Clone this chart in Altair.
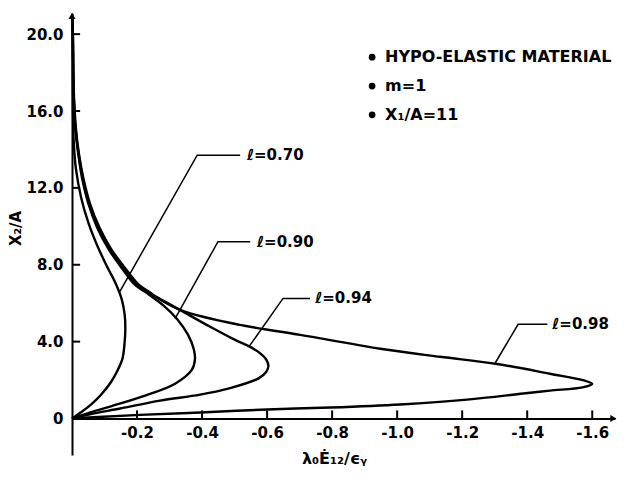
import altair as alt
import pandas as pd

# ---------------- data ----------------
curve_labels = ["ℓ=0.70", "ℓ=0.90", "ℓ=0.94", "ℓ=0.98"]

x70 = [-0.002, -0.002, -0.003, -0.005, -0.012, -0.028, -0.05, -0.075, -0.105, -0.135, -0.153,
       -0.162, -0.164, -0.161, -0.155, -0.14, -0.12, -0.09, -0.06, -0.03, 0.0]
y70 = [20.8, 18.5, 16.0, 14.5, 13.0, 11.5, 10.2, 9.1, 8.0, 7.0, 6.2,
       5.4, 4.6, 3.8, 3.1, 2.5, 1.9, 1.25, 0.75, 0.35, 0.0]

x90 = [-0.002, -0.003, -0.004, -0.006, -0.01, -0.019, -0.031, -0.05, -0.077, -0.113, -0.15, -0.194, -0.226,
       -0.28, -0.323, -0.357, -0.375, -0.378, -0.369, -0.317, -0.225, -0.117, -0.05, 0.0]
y90 = [20.8, 19.5, 18.0, 16.4, 15.1, 13.8, 12.5, 11.2, 9.95, 8.8, 7.9, 6.95, 6.58,
       5.9, 5.18, 4.35, 3.58, 3.06, 2.54, 1.81, 1.19, 0.62, 0.28, 0.0]

x94 = [-0.002, -0.003, -0.004, -0.006, -0.011, -0.02, -0.033, -0.052, -0.08, -0.117, -0.155, -0.2, -0.231,
       -0.265, -0.332, -0.425, -0.5, -0.545, -0.578, -0.598, -0.604, -0.597, -0.575, -0.486, -0.394, -0.271,
       -0.148, -0.055, 0.0]
y94 = [20.8, 19.5, 18.0, 16.4, 15.1, 13.8, 12.5, 11.2, 9.95, 8.8, 7.9, 6.95, 6.58,
       6.28, 5.65, 4.77, 4.1, 3.75, 3.4, 3.05, 2.72, 2.42, 2.1, 1.58, 1.24, 0.93,
       0.52, 0.22, 0.0]

x98 = [-0.002, -0.003, -0.004, -0.007, -0.012, -0.021, -0.035, -0.055, -0.084, -0.121, -0.16, -0.206, -0.238,
       -0.27, -0.34, -0.517, -0.702, -0.948, -1.132, -1.302, -1.47, -1.575, -1.6, -1.57, -1.47, -1.388,
       -1.215, -1.009, -0.794, -0.6, -0.394, -0.209, -0.08, 0.0]
y98 = [20.8, 19.5, 18.0, 16.4, 15.1, 13.8, 12.5, 11.2, 9.95, 8.8, 7.9, 6.95, 6.58,
       6.2, 5.6, 4.87, 4.35, 3.63, 3.21, 2.85, 2.33, 1.98, 1.8, 1.62, 1.45, 1.30,
       0.98, 0.73, 0.57, 0.47, 0.31, 0.19, 0.08, 0.0]

# leader lines (curve point -> elbow -> end) and label anchors
leader_x = [[-0.147, -0.385, -0.517], [-0.317, -0.449, -0.548],
            [-0.545, -0.649, -0.732], [-1.302, -1.372, -1.462]]
leader_y = [[6.6, 13.7, 13.7], [5.2, 9.2, 9.2],
            [3.75, 6.25, 6.25], [2.9, 4.9, 4.9]]
label_x = [-0.538, -0.569, -0.748, -1.477]
label_y = [13.7, 9.2, 6.25, 4.9]

note_lines = ["HYPO-ELASTIC MATERIAL", "m=1", "X₁/A=11"]
note_y = [18.8, 17.3, 15.8]
note_bullet_x = -0.923
note_text_x = -0.963

x_tick_values = [-0.2, -0.4, -0.6, -0.8, -1.0, -1.2, -1.4, -1.6]
y_tick_values = [0, 4, 8, 12, 16, 20]

# ---------------- tables ----------------
rows = []
for name, xs, ys in zip(curve_labels, [x70, x90, x94, x98], [y70, y90, y94, y98]):
    for i, (a, b) in enumerate(zip(xs, ys)):
        rows.append({"curve": name, "i": i, "x": a, "y": b})
df_curves = pd.DataFrame(rows)

lrows = []
for name, xs, ys in zip(curve_labels, leader_x, leader_y):
    for i, (a, b) in enumerate(zip(xs, ys)):
        lrows.append({"curve": name, "i": i, "x": a, "y": b})
df_leaders = pd.DataFrame(lrows)

df_labels = pd.DataFrame({"x": label_x, "y": label_y, "t": curve_labels})
df_notes = pd.DataFrame({"bx": [note_bullet_x] * 3, "tx": [note_text_x] * 3, "y": note_y, "t": note_lines})
df_yticks = pd.DataFrame({"y": [v for v in y_tick_values if v != 0], "x": 0.0, "x2": -0.025})
df_xticks = pd.DataFrame({"x": x_tick_values, "y": 0.0, "y2": 0.42})
df_arrow_up = pd.DataFrame({"x": [0.0], "y": [20.95]})
df_arrow_right = pd.DataFrame({"x": [-1.665], "y": [0.0]})

FONT = "DejaVu Sans"

xscale = alt.Scale(domain=[-1.67, 0], reverse=True, nice=False, zero=False)
yscale = alt.Scale(domain=[-1.9, 21.1], nice=False, zero=False)

xaxis = alt.Axis(
    values=x_tick_values,
    labelExpr="datum.value == 0 ? '' : '-' + format(abs(datum.value), '.1f')",
    ticks=False, grid=False, domainColor="black", domainWidth=2,
    labelFont=FONT, labelFontSize=15, labelFontWeight="bold", labelColor="black",
    labelPadding=7, offset=-36.5,
    title="λ₀Ė₁₂/ϵᵧ", titleFont=FONT, titleFontSize=16, titleFontWeight="bold",
    titleColor="black", titleX=262, titleY=40, titleAlign="center", titleBaseline="middle",
)
yaxis = alt.Axis(
    values=y_tick_values,
    labelExpr="datum.value == 0 ? '0' : format(datum.value, '.1f')",
    ticks=False, grid=False, domainColor="black", domainWidth=2,
    labelFont=FONT, labelFontSize=15, labelFontWeight="bold", labelColor="black",
    labelPadding=9,
    title="X₂/A", titleFont=FONT, titleFontSize=15, titleFontWeight="bold",
    titleColor="black", titleX=-57, titleY=215, titleAngle=270,
    titleAlign="center", titleBaseline="middle",
)

curves = alt.Chart(df_curves).mark_line(
    color="black", strokeWidth=2.4, interpolate="catmull-rom"
).encode(
    x=alt.X("x:Q", scale=xscale, axis=xaxis),
    y=alt.Y("y:Q", scale=yscale, axis=yaxis),
    detail="curve:N",
    order="i:Q",
)

leaders = alt.Chart(df_leaders).mark_line(color="black", strokeWidth=1.5).encode(
    x=alt.X("x:Q", scale=xscale), y=alt.Y("y:Q", scale=yscale), detail="curve:N", order="i:Q"
)

labels = alt.Chart(df_labels).mark_text(
    align="left", baseline="middle", font=FONT, fontSize=15, fontWeight="bold", color="black"
).encode(x=alt.X("x:Q", scale=xscale), y=alt.Y("y:Q", scale=yscale), text="t:N")

bullets = alt.Chart(df_notes).mark_point(
    shape="circle", filled=True, size=45, color="black", opacity=1
).encode(x=alt.X("bx:Q", scale=xscale), y=alt.Y("y:Q", scale=yscale))

notes = alt.Chart(df_notes).mark_text(
    align="left", baseline="middle", font=FONT, fontSize=16, fontWeight="bold", color="black"
).encode(x=alt.X("tx:Q", scale=xscale), y=alt.Y("y:Q", scale=yscale), text="t:N")

yticks = alt.Chart(df_yticks).mark_rule(color="black", strokeWidth=2).encode(
    x=alt.X("x:Q", scale=xscale), x2="x2:Q", y=alt.Y("y:Q", scale=yscale)
)
xticks = alt.Chart(df_xticks).mark_rule(color="black", strokeWidth=2).encode(
    x=alt.X("x:Q", scale=xscale), y=alt.Y("y:Q", scale=yscale), y2="y2:Q"
)

arrow_up = alt.Chart(df_arrow_up).mark_point(
    shape="triangle-up", filled=True, size=50, color="black", opacity=1
).encode(x=alt.X("x:Q", scale=xscale), y=alt.Y("y:Q", scale=yscale))
arrow_right = alt.Chart(df_arrow_right).mark_point(
    shape="triangle-right", filled=True, size=50, color="black", opacity=1
).encode(x=alt.X("x:Q", scale=xscale), y=alt.Y("y:Q", scale=yscale))

chart = alt.layer(
    curves, leaders, labels, bullets, notes, yticks, xticks, arrow_up, arrow_right
).properties(
    width=543, height=442,
    autosize=alt.AutoSizeParams(type="none"),
    padding={"left": 64, "top": 5, "right": 10, "bottom": 20},
    background="white",
).configure_view(stroke=None)

chart.save("out.html", embed_options={"renderer": "svg", "actions": False})
